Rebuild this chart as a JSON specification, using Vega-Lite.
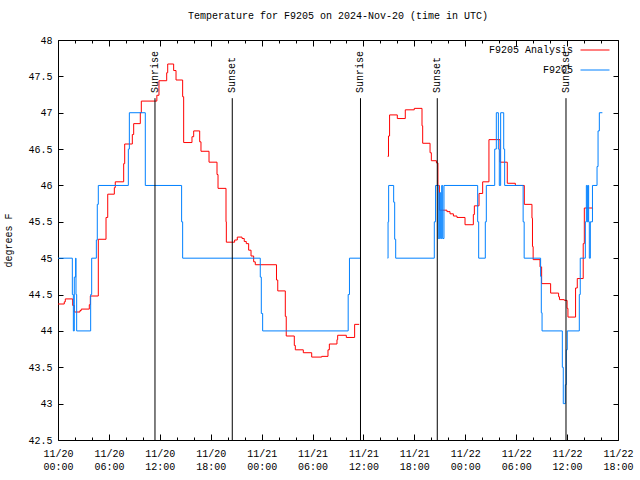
{
  "$schema": "https://vega.github.io/schema/vega-lite/v6.json",
  "width": 560,
  "height": 400,
  "autosize": {"type": "none"},
  "padding": {"left": 58, "top": 40, "right": 22, "bottom": 40},
  "background": "white",
  "title": {"text": "Temperature for F9205 on 2024-Nov-20 (time in UTC)", "font": "Liberation Mono", "fontSize": 10, "fontWeight": "normal", "color": "black", "offset": 14, "anchor": "middle"},
  "config": {
    "view": {"stroke": "black", "strokeWidth": 1},
    "axis": {"grid": false, "domain": false, "labelFont": "Liberation Mono", "labelFontSize": 10, "labelColor": "black", "tickColor": "black", "tickWidth": 1, "titleFont": "Liberation Mono", "titleFontSize": 10, "titleFontWeight": "normal", "titleColor": "black"}
  },
  "datasets": {
    "temps": [
      {"t": 0, "temp": 44.37, "series": "F9205 Analysis", "seg": 1},
      {"t": 0.74, "temp": 44.40, "series": "F9205 Analysis", "seg": 1},
      {"t": 0.86, "temp": 44.44, "series": "F9205 Analysis", "seg": 1},
      {"t": 1.73, "temp": 44.35, "series": "F9205 Analysis", "seg": 1},
      {"t": 1.92, "temp": 44.26, "series": "F9205 Analysis", "seg": 1},
      {"t": 2.59, "temp": 44.28, "series": "F9205 Analysis", "seg": 1},
      {"t": 2.74, "temp": 44.30, "series": "F9205 Analysis", "seg": 1},
      {"t": 3.69, "temp": 44.36, "series": "F9205 Analysis", "seg": 1},
      {"t": 3.81, "temp": 44.48, "series": "F9205 Analysis", "seg": 1},
      {"t": 4.75, "temp": 45.26, "series": "F9205 Analysis", "seg": 1},
      {"t": 5.66, "temp": 45.56, "series": "F9205 Analysis", "seg": 1},
      {"t": 5.86, "temp": 45.88, "series": "F9205 Analysis", "seg": 1},
      {"t": 6.64, "temp": 45.97, "series": "F9205 Analysis", "seg": 1},
      {"t": 6.75, "temp": 46.05, "series": "F9205 Analysis", "seg": 1},
      {"t": 7.74, "temp": 46.30, "series": "F9205 Analysis", "seg": 1},
      {"t": 7.86, "temp": 46.57, "series": "F9205 Analysis", "seg": 1},
      {"t": 8.76, "temp": 46.70, "series": "F9205 Analysis", "seg": 1},
      {"t": 8.92, "temp": 46.85, "series": "F9205 Analysis", "seg": 1},
      {"t": 9.70, "temp": 47.00, "series": "F9205 Analysis", "seg": 1},
      {"t": 9.82, "temp": 47.16, "series": "F9205 Analysis", "seg": 1},
      {"t": 11.65, "temp": 47.24, "series": "F9205 Analysis", "seg": 1},
      {"t": 11.90, "temp": 47.44, "series": "F9205 Analysis", "seg": 1},
      {"t": 12.81, "temp": 47.55, "series": "F9205 Analysis", "seg": 1},
      {"t": 12.93, "temp": 47.67, "series": "F9205 Analysis", "seg": 1},
      {"t": 13.63, "temp": 47.58, "series": "F9205 Analysis", "seg": 1},
      {"t": 13.91, "temp": 47.45, "series": "F9205 Analysis", "seg": 1},
      {"t": 14.69, "temp": 47.22, "series": "F9205 Analysis", "seg": 1},
      {"t": 14.81, "temp": 46.59, "series": "F9205 Analysis", "seg": 1},
      {"t": 15.79, "temp": 46.67, "series": "F9205 Analysis", "seg": 1},
      {"t": 15.99, "temp": 46.75, "series": "F9205 Analysis", "seg": 1},
      {"t": 16.70, "temp": 46.60, "series": "F9205 Analysis", "seg": 1},
      {"t": 16.85, "temp": 46.47, "series": "F9205 Analysis", "seg": 1},
      {"t": 17.80, "temp": 46.32, "series": "F9205 Analysis", "seg": 1},
      {"t": 18.74, "temp": 46.15, "series": "F9205 Analysis", "seg": 1},
      {"t": 18.86, "temp": 45.96, "series": "F9205 Analysis", "seg": 1},
      {"t": 19.80, "temp": 45.50, "series": "F9205 Analysis", "seg": 1},
      {"t": 19.84, "temp": 45.22, "series": "F9205 Analysis", "seg": 1},
      {"t": 20.82, "temp": 45.25, "series": "F9205 Analysis", "seg": 1},
      {"t": 21.13, "temp": 45.29, "series": "F9205 Analysis", "seg": 1},
      {"t": 21.69, "temp": 45.27, "series": "F9205 Analysis", "seg": 1},
      {"t": 21.95, "temp": 45.23, "series": "F9205 Analysis", "seg": 1},
      {"t": 22.19, "temp": 45.20, "series": "F9205 Analysis", "seg": 1},
      {"t": 22.47, "temp": 45.11, "series": "F9205 Analysis", "seg": 1},
      {"t": 22.75, "temp": 45.03, "series": "F9205 Analysis", "seg": 1},
      {"t": 23.06, "temp": 44.95, "series": "F9205 Analysis", "seg": 1},
      {"t": 23.25, "temp": 44.91, "series": "F9205 Analysis", "seg": 1},
      {"t": 25.75, "temp": 44.70, "series": "F9205 Analysis", "seg": 1},
      {"t": 25.90, "temp": 44.55, "series": "F9205 Analysis", "seg": 1},
      {"t": 26.79, "temp": 44.20, "series": "F9205 Analysis", "seg": 1},
      {"t": 26.90, "temp": 43.93, "series": "F9205 Analysis", "seg": 1},
      {"t": 27.85, "temp": 43.80, "series": "F9205 Analysis", "seg": 1},
      {"t": 27.97, "temp": 43.74, "series": "F9205 Analysis", "seg": 1},
      {"t": 28.91, "temp": 43.70, "series": "F9205 Analysis", "seg": 1},
      {"t": 29.90, "temp": 43.64, "series": "F9205 Analysis", "seg": 1},
      {"t": 31.08, "temp": 43.65, "series": "F9205 Analysis", "seg": 1},
      {"t": 31.82, "temp": 43.74, "series": "F9205 Analysis", "seg": 1},
      {"t": 31.98, "temp": 43.82, "series": "F9205 Analysis", "seg": 1},
      {"t": 32.88, "temp": 43.88, "series": "F9205 Analysis", "seg": 1},
      {"t": 32.96, "temp": 43.94, "series": "F9205 Analysis", "seg": 1},
      {"t": 33.98, "temp": 43.91, "series": "F9205 Analysis", "seg": 1},
      {"t": 34.96, "temp": 44.09, "series": "F9205 Analysis", "seg": 1},
      {"t": 35.50, "temp": 44.09, "series": "F9205 Analysis", "seg": 1},
      {"t": 38.85, "temp": 46.40, "series": "F9205 Analysis", "seg": 2},
      {"t": 38.95, "temp": 46.68, "series": "F9205 Analysis", "seg": 2},
      {"t": 39.08, "temp": 46.97, "series": "F9205 Analysis", "seg": 2},
      {"t": 39.99, "temp": 46.92, "series": "F9205 Analysis", "seg": 2},
      {"t": 40.93, "temp": 47.04, "series": "F9205 Analysis", "seg": 2},
      {"t": 41.99, "temp": 47.06, "series": "F9205 Analysis", "seg": 2},
      {"t": 42.90, "temp": 46.82, "series": "F9205 Analysis", "seg": 2},
      {"t": 42.98, "temp": 46.58, "series": "F9205 Analysis", "seg": 2},
      {"t": 43.85, "temp": 46.45, "series": "F9205 Analysis", "seg": 2},
      {"t": 44.00, "temp": 46.34, "series": "F9205 Analysis", "seg": 2},
      {"t": 44.60, "temp": 46.31, "series": "F9205 Analysis", "seg": 2},
      {"t": 44.78, "temp": 46.00, "series": "F9205 Analysis", "seg": 2},
      {"t": 44.95, "temp": 45.66, "series": "F9205 Analysis", "seg": 2},
      {"t": 45.84, "temp": 45.64, "series": "F9205 Analysis", "seg": 2},
      {"t": 46.20, "temp": 45.61, "series": "F9205 Analysis", "seg": 2},
      {"t": 46.60, "temp": 45.58, "series": "F9205 Analysis", "seg": 2},
      {"t": 47.02, "temp": 45.56, "series": "F9205 Analysis", "seg": 2},
      {"t": 47.97, "temp": 45.46, "series": "F9205 Analysis", "seg": 2},
      {"t": 48.95, "temp": 45.60, "series": "F9205 Analysis", "seg": 2},
      {"t": 49.07, "temp": 45.72, "series": "F9205 Analysis", "seg": 2},
      {"t": 49.62, "temp": 45.89, "series": "F9205 Analysis", "seg": 2},
      {"t": 50.05, "temp": 46.05, "series": "F9205 Analysis", "seg": 2},
      {"t": 50.79, "temp": 46.63, "series": "F9205 Analysis", "seg": 2},
      {"t": 52.10, "temp": 46.32, "series": "F9205 Analysis", "seg": 2},
      {"t": 52.95, "temp": 46.03, "series": "F9205 Analysis", "seg": 2},
      {"t": 53.90, "temp": 46.00, "series": "F9205 Analysis", "seg": 2},
      {"t": 54.96, "temp": 45.74, "series": "F9205 Analysis", "seg": 2},
      {"t": 55.86, "temp": 45.55, "series": "F9205 Analysis", "seg": 2},
      {"t": 55.92, "temp": 45.16, "series": "F9205 Analysis", "seg": 2},
      {"t": 56.00, "temp": 44.98, "series": "F9205 Analysis", "seg": 2},
      {"t": 56.81, "temp": 44.88, "series": "F9205 Analysis", "seg": 2},
      {"t": 57.00, "temp": 44.65, "series": "F9205 Analysis", "seg": 2},
      {"t": 58.06, "temp": 44.52, "series": "F9205 Analysis", "seg": 2},
      {"t": 59.00, "temp": 44.47, "series": "F9205 Analysis", "seg": 2},
      {"t": 59.10, "temp": 44.43, "series": "F9205 Analysis", "seg": 2},
      {"t": 59.67, "temp": 44.42, "series": "F9205 Analysis", "seg": 2},
      {"t": 60.00, "temp": 44.31, "series": "F9205 Analysis", "seg": 2},
      {"t": 60.10, "temp": 44.19, "series": "F9205 Analysis", "seg": 2},
      {"t": 61.00, "temp": 44.59, "series": "F9205 Analysis", "seg": 2},
      {"t": 61.20, "temp": 44.72, "series": "F9205 Analysis", "seg": 2},
      {"t": 61.90, "temp": 45.20, "series": "F9205 Analysis", "seg": 2},
      {"t": 62.03, "temp": 45.69, "series": "F9205 Analysis", "seg": 2},
      {"t": 63.00, "temp": 45.67, "series": "F9205 Analysis", "seg": 2},
      {"t": 0, "temp": 45.0, "series": "F9205", "seg": 1},
      {"t": 1.69, "temp": 44.5, "series": "F9205", "seg": 1},
      {"t": 1.81, "temp": 44.0, "series": "F9205", "seg": 1},
      {"t": 1.92, "temp": 44.74, "series": "F9205", "seg": 1},
      {"t": 2.08, "temp": 45.0, "series": "F9205", "seg": 1},
      {"t": 2.12, "temp": 44.5, "series": "F9205", "seg": 1},
      {"t": 2.20, "temp": 44.0, "series": "F9205", "seg": 1},
      {"t": 3.85, "temp": 44.5, "series": "F9205", "seg": 1},
      {"t": 3.97, "temp": 45.0, "series": "F9205", "seg": 1},
      {"t": 4.52, "temp": 45.25, "series": "F9205", "seg": 1},
      {"t": 4.63, "temp": 45.74, "series": "F9205", "seg": 1},
      {"t": 4.75, "temp": 46.0, "series": "F9205", "seg": 1},
      {"t": 8.29, "temp": 46.5, "series": "F9205", "seg": 1},
      {"t": 8.41, "temp": 47.0, "series": "F9205", "seg": 1},
      {"t": 10.29, "temp": 46.0, "series": "F9205", "seg": 1},
      {"t": 14.57, "temp": 45.5, "series": "F9205", "seg": 1},
      {"t": 14.69, "temp": 45.0, "series": "F9205", "seg": 1},
      {"t": 23.84, "temp": 44.74, "series": "F9205", "seg": 1},
      {"t": 23.96, "temp": 44.24, "series": "F9205", "seg": 1},
      {"t": 24.12, "temp": 44.0, "series": "F9205", "seg": 1},
      {"t": 34.20, "temp": 44.5, "series": "F9205", "seg": 1},
      {"t": 34.35, "temp": 45.0, "series": "F9205", "seg": 1},
      {"t": 35.60, "temp": 45.0, "series": "F9205", "seg": 1},
      {"t": 38.85, "temp": 45.0, "series": "F9205", "seg": 2},
      {"t": 38.90, "temp": 45.5, "series": "F9205", "seg": 2},
      {"t": 38.97, "temp": 46.0, "series": "F9205", "seg": 2},
      {"t": 39.56, "temp": 45.77, "series": "F9205", "seg": 2},
      {"t": 39.68, "temp": 45.26, "series": "F9205", "seg": 2},
      {"t": 39.80, "temp": 45.0, "series": "F9205", "seg": 2},
      {"t": 44.35, "temp": 45.5, "series": "F9205", "seg": 2},
      {"t": 44.50, "temp": 46.0, "series": "F9205", "seg": 2},
      {"t": 44.82, "temp": 45.27, "series": "F9205", "seg": 2},
      {"t": 44.98, "temp": 45.9, "series": "F9205", "seg": 2},
      {"t": 45.10, "temp": 45.27, "series": "F9205", "seg": 2},
      {"t": 45.22, "temp": 46.0, "series": "F9205", "seg": 2},
      {"t": 45.34, "temp": 45.27, "series": "F9205", "seg": 2},
      {"t": 45.49, "temp": 46.0, "series": "F9205", "seg": 2},
      {"t": 49.46, "temp": 45.5, "series": "F9205", "seg": 2},
      {"t": 49.58, "temp": 45.0, "series": "F9205", "seg": 2},
      {"t": 50.36, "temp": 45.5, "series": "F9205", "seg": 2},
      {"t": 50.48, "temp": 46.0, "series": "F9205", "seg": 2},
      {"t": 51.47, "temp": 46.5, "series": "F9205", "seg": 2},
      {"t": 51.66, "temp": 47.0, "series": "F9205", "seg": 2},
      {"t": 51.90, "temp": 46.5, "series": "F9205", "seg": 2},
      {"t": 52.01, "temp": 46.0, "series": "F9205", "seg": 2},
      {"t": 52.17, "temp": 47.0, "series": "F9205", "seg": 2},
      {"t": 52.53, "temp": 46.5, "series": "F9205", "seg": 2},
      {"t": 52.64, "temp": 46.0, "series": "F9205", "seg": 2},
      {"t": 54.82, "temp": 45.5, "series": "F9205", "seg": 2},
      {"t": 54.94, "temp": 45.0, "series": "F9205", "seg": 2},
      {"t": 56.88, "temp": 44.75, "series": "F9205", "seg": 2},
      {"t": 56.96, "temp": 44.25, "series": "F9205", "seg": 2},
      {"t": 57.05, "temp": 44.0, "series": "F9205", "seg": 2},
      {"t": 59.44, "temp": 43.5, "series": "F9205", "seg": 2},
      {"t": 59.55, "temp": 43.0, "series": "F9205", "seg": 2},
      {"t": 59.79, "temp": 43.26, "series": "F9205", "seg": 2},
      {"t": 59.90, "temp": 43.74, "series": "F9205", "seg": 2},
      {"t": 60.02, "temp": 44.0, "series": "F9205", "seg": 2},
      {"t": 61.44, "temp": 44.5, "series": "F9205", "seg": 2},
      {"t": 61.55, "temp": 45.0, "series": "F9205", "seg": 2},
      {"t": 62.15, "temp": 45.5, "series": "F9205", "seg": 2},
      {"t": 62.27, "temp": 46.0, "series": "F9205", "seg": 2},
      {"t": 62.38, "temp": 45.5, "series": "F9205", "seg": 2},
      {"t": 62.46, "temp": 46.0, "series": "F9205", "seg": 2},
      {"t": 62.54, "temp": 45.5, "series": "F9205", "seg": 2},
      {"t": 62.62, "temp": 45.0, "series": "F9205", "seg": 2},
      {"t": 62.74, "temp": 45.5, "series": "F9205", "seg": 2},
      {"t": 62.99, "temp": 46.0, "series": "F9205", "seg": 2},
      {"t": 63.53, "temp": 46.26, "series": "F9205", "seg": 2},
      {"t": 63.65, "temp": 46.75, "series": "F9205", "seg": 2},
      {"t": 63.80, "temp": 47.0, "series": "F9205", "seg": 2},
      {"t": 64.16, "temp": 47.0, "series": "F9205", "seg": 2}
    ],
    "sun": [
      {"t": 11.43, "label": "Sunrise"},
      {"t": 20.54, "label": "Sunset"},
      {"t": 35.65, "label": "Sunrise"},
      {"t": 44.70, "label": "Sunset"},
      {"t": 59.87, "label": "Sunrise"}
    ]
  },
  "layer": [
    {
      "data": {"name": "temps"},
      "mark": {"type": "line", "interpolate": "step-after", "strokeWidth": 1},
      "encoding": {
        "x": {
          "field": "t", "type": "quantitative",
          "scale": {"domain": [0, 66], "nice": false, "zero": false},
          "axis": {
            "orient": "bottom", "title": null,
            "values": [0, 2, 4, 6, 8, 10, 12, 14, 16, 18, 20, 22, 24, 26, 28, 30, 32, 34, 36, 38, 40, 42, 44, 46, 48, 50, 52, 54, 56, 58, 60, 62, 64, 66],
            "tickSize": {"condition": {"test": "datum.value % 6 === 0", "value": -6}, "value": -3},
            "labelExpr": "datum.value % 6 === 0 ? ['11/' + (20 + floor(datum.value / 24)), (datum.value % 24 < 10 ? '0' : '') + (datum.value % 24) + ':00'] : ''",
            "labelPadding": 14, "labelLineHeight": 13, "labelBaseline": "top", "labelFlush": false, "labelOverlap": false
          }
        },
        "y": {
          "field": "temp", "type": "quantitative",
          "scale": {"domain": [42.5, 48], "nice": false, "zero": false},
          "axis": {
            "orient": "left", "title": "degrees F", "titlePadding": 14,
            "values": [42.5, 43, 43.5, 44, 44.5, 45, 45.5, 46, 46.5, 47, 47.5, 48],
            "format": "~g", "tickSize": -5, "labelPadding": 11, "labelOverlap": false
          }
        },
        "color": {
          "field": "series", "type": "nominal",
          "scale": {"domain": ["F9205 Analysis", "F9205"], "range": ["#ff0000", "#0080ff"]},
          "legend": {
            "orient": "none", "legendX": 522, "legendY": -5, "title": null,
            "symbolType": "stroke", "symbolSize": 841, "symbolStrokeWidth": 1,
            "labelAlign": "right", "labelOffset": -37, "rowPadding": -17.5, "padding": 0,
            "labelFont": "Liberation Mono", "labelFontSize": 10, "labelColor": "black", "direction": "vertical"
          }
        },
        "detail": {"field": "seg", "type": "nominal"}
      }
    },
    {
      "data": {"name": "sun"},
      "mark": {"type": "rule", "color": "black", "strokeWidth": 1},
      "encoding": {
        "x": {
          "field": "t", "type": "quantitative",
          "axis": {
            "orient": "top", "title": null, "labels": false,
            "values": [0, 2, 4, 6, 8, 10, 12, 14, 16, 18, 20, 22, 24, 26, 28, 30, 32, 34, 36, 38, 40, 42, 44, 46, 48, 50, 52, 54, 56, 58, 60, 62, 64, 66],
            "tickSize": {"condition": {"test": "datum.value % 6 === 0", "value": -6}, "value": -3}
          }
        },
        "y": {
          "datum": 47.2,
          "axis": {"orient": "right", "title": null, "labels": false, "values": [42.5, 43, 43.5, 44, 44.5, 45, 45.5, 46, 46.5, 47, 47.5, 48], "tickSize": -5}
        },
        "y2": {"datum": 42.5}
      }
    },
    {
      "data": {"name": "sun"},
      "mark": {"type": "text", "angle": 270, "align": "left", "baseline": "middle", "font": "Liberation Mono", "fontSize": 10, "color": "black"},
      "encoding": {
        "x": {"field": "t", "type": "quantitative", "axis": null},
        "y": {"datum": 47.27, "axis": null},
        "text": {"field": "label"}
      }
    }
  ],
  "resolve": {"axis": {"x": "independent", "y": "independent"}}
}
